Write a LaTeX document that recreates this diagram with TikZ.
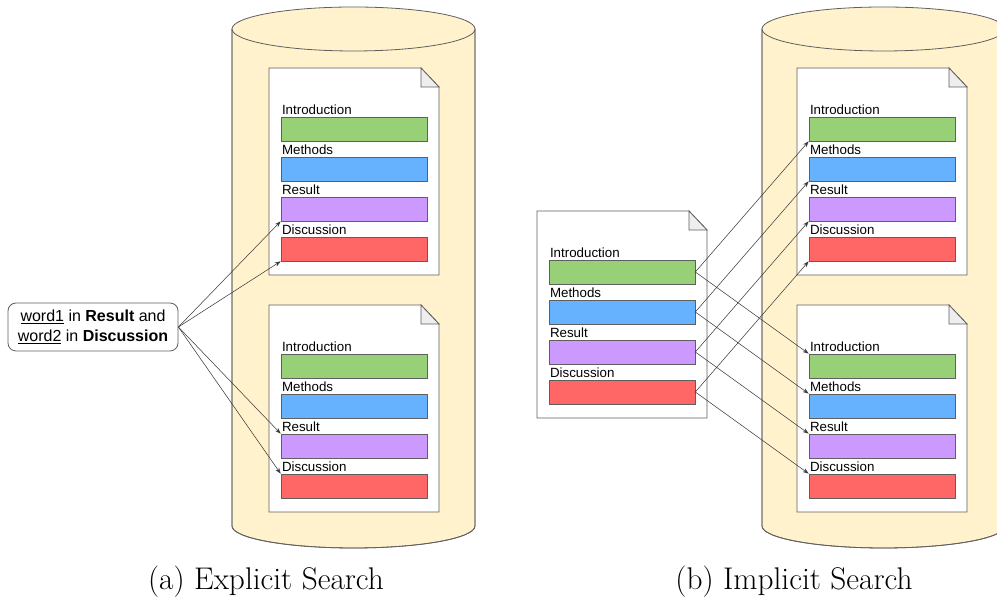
\documentclass[tikz,border=0pt]{standalone}
\usepackage{fontspec}
\newfontfamily\dfont{Liberation Sans}
\usetikzlibrary{arrows.meta}

\definecolor{cylfill}{HTML}{FFF2CC}
\definecolor{edge}{HTML}{5F5F5F}
\definecolor{barg}{HTML}{97D077}
\definecolor{barb}{HTML}{66B2FF}
\definecolor{barp}{HTML}{CC99FF}
\definecolor{barr}{HTML}{FF6666}
\definecolor{foldgray}{HTML}{EEEEEE}
\definecolor{linkc}{HTML}{3A3A3A}

\tikzset{
  cyl/.style={fill=cylfill, draw=edge, line width=0.6pt},
  sheet/.style={fill=white, draw=edge, line width=0.6pt},
  bar/.style={draw=edge, line width=0.5pt, minimum width=109.5pt, minimum height=18pt, inner sep=0pt},
  lbl/.style={font=\dfont\fontsize{10}{12}\selectfont, anchor=base west, inner sep=0pt},
  query/.style={draw=edge, fill=white, rounded corners=6pt, line width=0.6pt,
    minimum width=127.5pt, minimum height=36pt, align=center, inner sep=2pt,
    font=\dfont\fontsize{12}{15.5}\selectfont},
  link/.style={draw=linkc, line width=0.4pt, -{Stealth[length=4.5pt, width=3.2pt]}},
  caption/.style={font=\fontsize{23.5}{28}\selectfont, anchor=base, inner sep=0pt},
}

% a database cylinder: left x, right x (pixels); top/bottom ellipse centres fixed
\newcommand\dbcyl[2]{%
  \path[cyl] (#1,570) -- (#1,73)
    arc[start angle=180, end angle=360, x radius={(#2-#1)*0.375pt}, y radius=16.5pt]
    -- (#2,570) -- cycle;
  \draw[cyl] ({(#1+#2)/2},570) ellipse[x radius={(#2-#1)*0.375pt}, y radius=16.5pt];
  \draw[edge, line width=0.6pt] (#1,570) -- (#1,73)
    arc[start angle=180, end angle=360, x radius={(#2-#1)*0.375pt}, y radius=16.5pt]
    -- (#2,570);
}

% a document sheet with four section bars: name, left x, top y (pixels from top)
\newcommand\docsheet[3]{%
  \draw[sheet] (#2,{599-(#3)}) -- ({#2+152},{599-(#3)}) -- ({#2+170},{599-(#3)-19})
    -- ({#2+170},{599-(#3)-207}) -- (#2,{599-(#3)-207}) -- cycle;
  \draw[sheet, fill=foldgray] ({#2+152},{599-(#3)}) -- ({#2+152},{599-(#3)-19})
    -- ({#2+170},{599-(#3)-19}) -- cycle;
  \foreach \k/\c/\t [count=\i from 0] in
      {i/barg/Introduction, m/barb/Methods, r/barp/Result, d/barr/Discussion} {
    \node[bar, fill=\c] (#1\k) at ({#2+85},{599-(#3)-61-40*\i}) {};
    \node[lbl] (#1\k t) at ([xshift=0.8pt, yshift=1.6pt]#1\k.north west) {\t};
  }
}

\begin{document}
\begin{tikzpicture}[x=0.75pt, y=0.75pt]
  \clip (0,0) rectangle (997,599);

  % explicit search
  \dbcyl{232}{475}
  \docsheet{A}{269}{68}
  \docsheet{B}{269}{305}
  \node[query] (q) at (93,272)
    {\underline{word1} in \textbf{Result} and\\ \underline{word2} in \textbf{Discussion}};
  \draw[link] (q.east) -- (Ar.south west);
  \draw[link] (q.east) -- (Ad.south west);
  \draw[link] (q.east) -- (Br.north west);
  \draw[link] (q.east) -- (Bd.north west);

  % implicit search
  \dbcyl{762}{1005}
  \docsheet{C}{797}{68}
  \docsheet{D}{797}{305}
  \docsheet{Q}{537}{211}
  \foreach \k in {i,m,r,d} {
    \draw[link] (Q\k.east) -- (C\k.south west);
    \draw[link] (Q\k.east) -- (D\k.north west);
  }

  % captions
  \node[caption] (capa) at (266,9) {(a) Explicit Search};
  \node[caption] (capb) at (794,9) {(b) Implicit Search};
\end{tikzpicture}
\end{document}
